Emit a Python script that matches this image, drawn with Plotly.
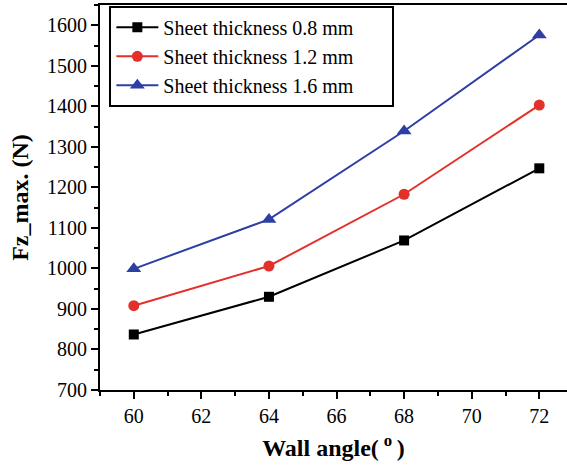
import plotly.graph_objects as go

# Wall angle (degrees) and peak vertical force Fz (N) per sheet thickness
wall_angle = [60, 64, 68, 72]
fz_08 = [837, 930, 1069, 1247]
fz_12 = [908, 1006, 1183, 1403]
fz_16 = [999, 1121, 1339, 1576]

# trailing fixed-width spaces give the legend frame its wider right padding
pad = "\u2003\u2002\u2009"
series = [
    ("Sheet thickness 0.8 mm" + pad, fz_08, "#000000", "square", 10),
    ("Sheet thickness 1.2 mm" + pad, fz_12, "#e3302a", "circle", 11),
    ("Sheet thickness 1.6 mm" + pad, fz_16, "#2e3fa3", "triangle-up", 13),
]

fig = go.Figure()
for name, vals, color, sym, size in series:
    fig.add_trace(go.Scatter(
        x=wall_angle, y=vals, name=name, mode="lines+markers",
        line=dict(color=color, width=2),
        marker=dict(symbol=sym, size=size, color=color),
    ))

serif = "'Times New Roman', 'Liberation Serif', serif"

fig.update_layout(
    width=567, height=466,
    margin=dict(l=100, r=0, t=5, b=76),
    paper_bgcolor="white", plot_bgcolor="white",
    font=dict(family=serif, color="black", size=20),
    showlegend=True,
    legend=dict(
        x=0.02, y=0.998, xanchor="left", yanchor="top",
        bordercolor="black", borderwidth=2, bgcolor="white",
        font=dict(size=20, family=serif, color="black"),
        tracegroupgap=0, itemwidth=42,
    ),
    xaxis=dict(
        range=[59, 72.82], tickvals=[60, 62, 64, 66, 68, 70, 72],
        ticks="outside", ticklen=7, tickwidth=1.5, tickcolor="black",
        minor=dict(dtick=1, tick0=59, ticks="outside", ticklen=4, tickwidth=1.5, tickcolor="black"),
        showline=True, linecolor="black", linewidth=2, mirror=True,
        showgrid=False, zeroline=False,
        tickfont=dict(size=20, family=serif, color="black"),
        title=dict(text="<b>Wall angle(\u2009<sup>o</sup>\u2009)</b>",
                   font=dict(size=24, family=serif, color="black", weight="bold"), standoff=13),
    ),
    yaxis=dict(
        range=[700, 1650], dtick=100,
        ticks="outside", ticklen=7, tickwidth=1.5, tickcolor="black",
        minor=dict(dtick=50, ticks="outside", ticklen=4, tickwidth=1.5, tickcolor="black"),
        showline=True, linecolor="black", linewidth=2,
        showgrid=False, zeroline=False,
        tickfont=dict(size=20, family=serif, color="black"),
        title=dict(text="<b>Fz_max. (N)</b>",
                   font=dict(size=24, family=serif, color="black", weight="bold"), standoff=12),
    ),
)

fig.write_html("out.html")
